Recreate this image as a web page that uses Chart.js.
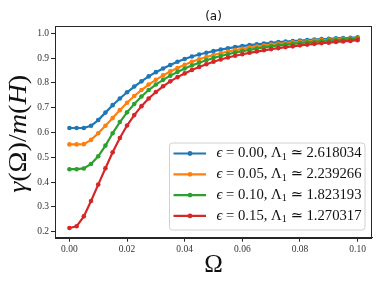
<!DOCTYPE html>
<html>
<head>
<meta charset="utf-8">
<script src="https://cdn.jsdelivr.net/npm/chart.js@4/dist/chart.umd.min.js"></script>
<style>
  html, body { margin: 0; padding: 0; background: #fff; }
  #wrap { width: 381px; height: 286px; }
</style>
</head>
<body>
<div id="wrap"><canvas id="chart" width="381" height="286"></canvas></div>
<script>
// Omega grid (x values)
const omega = [
  0.0000, 0.0025, 0.0050, 0.0075, 0.0100, 0.0125, 0.0150, 0.0175, 0.0200, 0.0225,
  0.0250, 0.0275, 0.0300, 0.0325, 0.0350, 0.0375, 0.0400, 0.0425, 0.0450, 0.0475,
  0.0500, 0.0525, 0.0550, 0.0575, 0.0600, 0.0625, 0.0650, 0.0675, 0.0700, 0.0725,
  0.0750, 0.0775, 0.0800, 0.0825, 0.0850, 0.0875, 0.0900, 0.0925, 0.0950, 0.0975,
  0.1000
];

// gamma(Omega)/m(H) for each epsilon
const eps000 = [
  0.618, 0.618, 0.618, 0.627, 0.650, 0.680, 0.710, 0.737, 0.762, 0.785,
  0.806, 0.826, 0.843, 0.858, 0.872, 0.885, 0.896, 0.906, 0.914, 0.921,
  0.928, 0.934, 0.939, 0.944, 0.948, 0.952, 0.955, 0.958, 0.961, 0.964,
  0.966, 0.968, 0.970, 0.972, 0.974, 0.976, 0.977, 0.979, 0.980, 0.981,
  0.983
];
const eps005 = [
  0.552, 0.552, 0.553, 0.570, 0.597, 0.627, 0.658, 0.690, 0.720, 0.747,
  0.771, 0.793, 0.812, 0.830, 0.846, 0.860, 0.873, 0.885, 0.895, 0.904,
  0.912, 0.919, 0.926, 0.932, 0.937, 0.942, 0.946, 0.950, 0.954, 0.957,
  0.960, 0.963, 0.965, 0.967, 0.970, 0.972, 0.973, 0.975, 0.977, 0.978,
  0.980
];
const eps010 = [
  0.452, 0.452, 0.455, 0.473, 0.504, 0.547, 0.597, 0.642, 0.681, 0.715,
  0.745, 0.771, 0.793, 0.812, 0.829, 0.844, 0.858, 0.870, 0.881, 0.891,
  0.900, 0.908, 0.915, 0.922, 0.928, 0.933, 0.938, 0.943, 0.947, 0.951,
  0.954, 0.957, 0.960, 0.963, 0.965, 0.968, 0.970, 0.972, 0.974, 0.976,
  0.978
];
const eps015 = [
  0.215, 0.222, 0.262, 0.324, 0.390, 0.456, 0.520, 0.578, 0.628, 0.670,
  0.706, 0.737, 0.763, 0.786, 0.806, 0.823, 0.838, 0.852, 0.864, 0.875,
  0.885, 0.894, 0.902, 0.909, 0.915, 0.921, 0.926, 0.931, 0.936, 0.940,
  0.944, 0.947, 0.951, 0.954, 0.957, 0.960, 0.962, 0.965, 0.967, 0.969,
  0.972
];

const seriesValues = [eps000, eps005, eps010, eps015];
const epsLabels = ['0.00', '0.05', '0.10', '0.15'];
const lambdaLabels = ['2.618034', '2.239266', '1.823193', '1.270317'];
const colors = ['#1f77b4', '#ff7f0e', '#2ca02c', '#d62728'];

const xTicks = [0.00, 0.02, 0.04, 0.06, 0.08, 0.10];
const yTicks = [0.2, 0.3, 0.4, 0.5, 0.6, 0.7, 0.8, 0.9, 1.0];

const SERIF = '"Liberation Serif", "DejaVu Serif", serif';

// draw a run of text pieces (italic / subscript) starting at x
function drawRich(ctx, parts, x, y, size) {
    parts.forEach(p => {
        const fs = p.sub ? size * 0.7 : size;
        ctx.font = (p.italic ? 'italic ' : '') + fs + 'px ' + SERIF;
        ctx.fillText(p.t, x, p.sub ? y + size * 0.25 : y);
        x += ctx.measureText(p.t).width;
    });
    return x;
}

function richWidth(ctx, parts, size) {
    let w = 0;
    parts.forEach(p => {
        const fs = p.sub ? size * 0.7 : size;
        ctx.font = (p.italic ? 'italic ' : '') + fs + 'px ' + SERIF;
        w += ctx.measureText(p.t).width;
    });
    return w;
}

const decorPlugin = {
    id: 'decor',
    afterDraw(chart) {
        const ctx = chart.ctx;
        const a = chart.chartArea;
        ctx.save();

        // axes frame
        ctx.strokeStyle = '#262626';
        ctx.lineWidth = 1;
        ctx.strokeRect(Math.round(a.left) + 0.5, Math.round(a.top) + 0.5,
            Math.round(a.right - a.left) - 1, Math.round(a.bottom - a.top));

        // title
        ctx.fillStyle = '#111';
        ctx.font = '12px "DejaVu Sans", sans-serif';
        ctx.textAlign = 'center';
        ctx.textBaseline = 'middle';
        ctx.fillText('(a)', (a.left + a.right) / 2, 17);

        // x label
        ctx.font = '25px ' + SERIF;
        ctx.fillText('\u03A9', (a.left + a.right) / 2, 265);

        // y label
        const yParts = [
            { t: '\u03B3', italic: true }, { t: '(\u03A9)' }, { t: '/' },
            { t: 'm', italic: true }, { t: '(' }, { t: 'H', italic: true }, { t: ')' }
        ];
        const ySize = 25;
        ctx.save();
        ctx.translate(19, (a.top + a.bottom) / 2 + 2);
        ctx.rotate(-Math.PI / 2);
        ctx.textAlign = 'left';
        const yw = richWidth(ctx, yParts, ySize);
        ctx.scale(118 / yw, 1);
        drawRich(ctx, yParts, -yw / 2, 0, ySize);
        ctx.restore();

        // legend
        const lx = 169, ly = 142.5, lw = 195.5, lh = 87;
        ctx.beginPath();
        ctx.roundRect(lx + 0.5, ly + 0.5, lw, lh, 3);
        ctx.fillStyle = 'rgba(255,255,255,0.8)';
        ctx.fill();
        ctx.strokeStyle = '#d0d0d0';
        ctx.lineWidth = 1;
        ctx.stroke();

        ctx.textAlign = 'left';
        ctx.textBaseline = 'middle';
        const size = 14.5;
        for (let i = 0; i < seriesValues.length; i++) {
            const ry = 153.5 + i * 20.8;
            ctx.strokeStyle = colors[i];
            ctx.lineWidth = 2.2;
            ctx.beginPath();
            ctx.moveTo(173.5, ry);
            ctx.lineTo(206, ry);
            ctx.stroke();
            ctx.fillStyle = colors[i];
            ctx.beginPath();
            ctx.arc(190, ry, 2.4, 0, Math.PI * 2);
            ctx.fill();

            ctx.fillStyle = '#111';
            const parts = [
                { t: '\u03F5', italic: true }, { t: ' = ' + epsLabels[i] + ', ' },
                { t: '\u039B' }, { t: '1', sub: true }, { t: ' \u2243 ' + lambdaLabels[i] }
            ];
            const w = richWidth(ctx, parts, size);
            ctx.save();
            ctx.translate(216.5, ry);
            ctx.scale(145 / w, 1);
            drawRich(ctx, parts, 0, 0, size);
            ctx.restore();
        }
        ctx.restore();
    }
};

new Chart(document.getElementById('chart'), {
    type: 'line',
    data: {
        datasets: seriesValues.map((vals, i) => ({
            label: 'eps = ' + epsLabels[i],
            data: omega.map((x, j) => ({ x: x, y: vals[j] })),
            borderColor: colors[i],
            backgroundColor: colors[i],
            borderWidth: 2.2,
            pointRadius: 2.3,
            pointBorderWidth: 0,
            pointBackgroundColor: colors[i],
            tension: 0,
            order: seriesValues.length - i
        }))
    },
    options: {
        responsive: false,
        animation: false,
        layout: { padding: { left: 0, right: 9, top: 26, bottom: 0 } },
        plugins: {
            legend: { display: false },
            title: { display: false },
            tooltip: { enabled: false }
        },
        scales: {
            x: {
                type: 'linear',
                min: -0.005,
                max: 0.105,
                afterBuildTicks: s => { s.ticks = xTicks.map(v => ({ value: v })); },
                afterFit: s => { s.height = 48.3; },
                grid: { drawOnChartArea: false, drawTicks: true, tickLength: 4, color: '#262626' },
                border: { display: true, color: '#262626' },
                ticks: {
                    padding: 2,
                    color: '#333',
                    font: { family: SERIF, size: 9.5 },
                    maxRotation: 0,
                    callback: v => v.toFixed(2)
                }
            },
            y: {
                type: 'linear',
                min: 0.176,
                max: 1.029,
                afterBuildTicks: s => { s.ticks = yTicks.map(v => ({ value: v })); },
                afterFit: s => { s.width = 55; },
                grid: { drawOnChartArea: false, drawTicks: true, tickLength: 4, color: '#262626' },
                border: { display: true, color: '#262626' },
                ticks: {
                    padding: 2,
                    color: '#333',
                    font: { family: SERIF, size: 9.5 },
                    callback: v => v.toFixed(1)
                }
            }
        }
    },
    plugins: [decorPlugin]
});
</script>
</body>
</html>
